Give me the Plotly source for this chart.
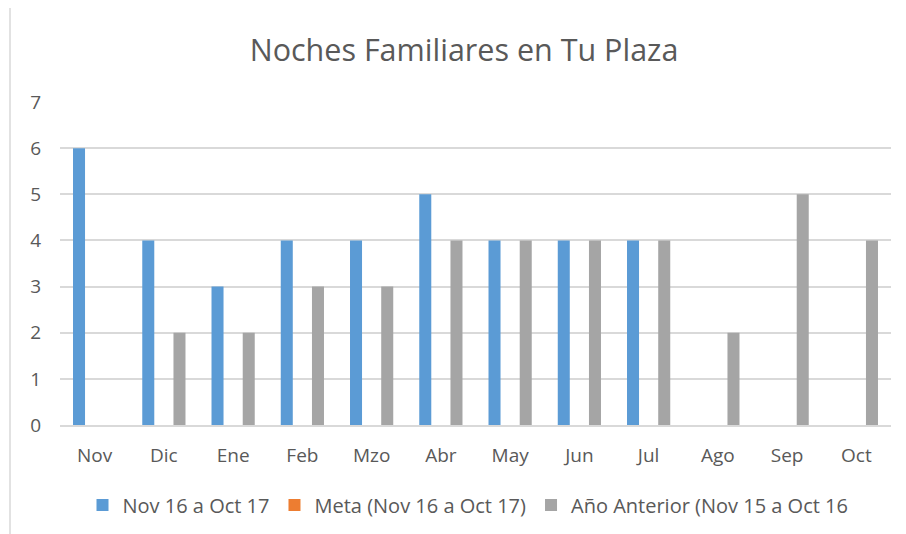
import plotly.graph_objects as go

months = ["Nov", "Dic", "Ene", "Feb", "Mzo", "Abr", "May", "Jun", "Jul", "Ago", "Sep", "Oct"]
actual = [6, 4, 3, 4, 4, 5, 4, 4, 4, None, None, None]
meta = [None, None, None, None, None, None, None, None, None, None, None, None]
anterior = [None, 2, 2, 3, 3, 4, 4, 4, 4, 2, 5, 4]

names = ["Nov 16 a Oct 17", "Meta (Nov 16 a Oct 17)", "Año Anterior (Nov 15 a Oct 16"]
colors = ["#5B9BD5", "#ED7D31", "#A5A5A5"]

FONT = "Open Sans, Noto Sans, DejaVu Sans, sans-serif"
TXT = "#595959"

fig = go.Figure()
for name, vals, col in zip(names, [actual, meta, anterior], colors):
    fig.add_trace(go.Bar(x=months, y=vals, name=name, marker=dict(color=col, line=dict(width=0))))

# page body adds an 8px offset, so the figure is laid out 8px smaller
OFF = 8
W, H = 906 - OFF, 534 - OFF
L, R, T, B = 60 - OFF, 15, 102 - OFF, 109
pw, ph = W - L - R, H - T - B

fig.update_layout(
    width=W, height=H,
    margin=dict(l=L, r=R, t=T, b=B),
    paper_bgcolor="white", plot_bgcolor="white",
    barmode="group", bargap=0.324, bargroupgap=0.23,
    font=dict(family=FONT, color=TXT, size=19),
    title=dict(text="Noches Familiares en Tu Plaza", x=(464 - OFF) / W, xref="container", xanchor="center",
               y=1 - (50 - OFF) / H, yref="container", yanchor="middle",
               font=dict(family=FONT, size=30.5, color=TXT)),
    showlegend=True,
    legend=dict(orientation="h", x=(468 - OFF) / W, xref="container", xanchor="center",
                y=1 - (505 - OFF) / H, yref="container", yanchor="middle",
                font=dict(family=FONT, size=20, color=TXT), traceorder="normal",
                itemwidth=30),
    xaxis=dict(showgrid=False, showline=True, linecolor="#D9D9D9", linewidth=1.5,
               ticks="", ticklabelstandoff=12, tickfont=dict(size=19, color=TXT), fixedrange=True),
    yaxis=dict(range=[0, 7], dtick=1, showgrid=True, gridcolor="#D9D9D9", gridwidth=1.5,
               zeroline=False, showline=False, ticks="", ticklabelstandoff=18,
               tickfont=dict(size=19, color=TXT), fixedrange=True),
)

# chart-area border (left and top edges visible in reference)
bx = (10 - OFF - L) / pw
by = (H - T - 0.75) / ph
fig.add_shape(type="line", xref="paper", yref="paper",
              x0=bx, x1=bx, y0=by, y1=(-B - 5) / ph,
              line=dict(color="#D9D9D9", width=1.5))
fig.add_shape(type="line", xref="paper", yref="paper",
              x0=bx, x1=(W + 5 - L) / pw, y0=by, y1=by,
              line=dict(color="#D9D9D9", width=1.5))

fig.write_html("out.html")
